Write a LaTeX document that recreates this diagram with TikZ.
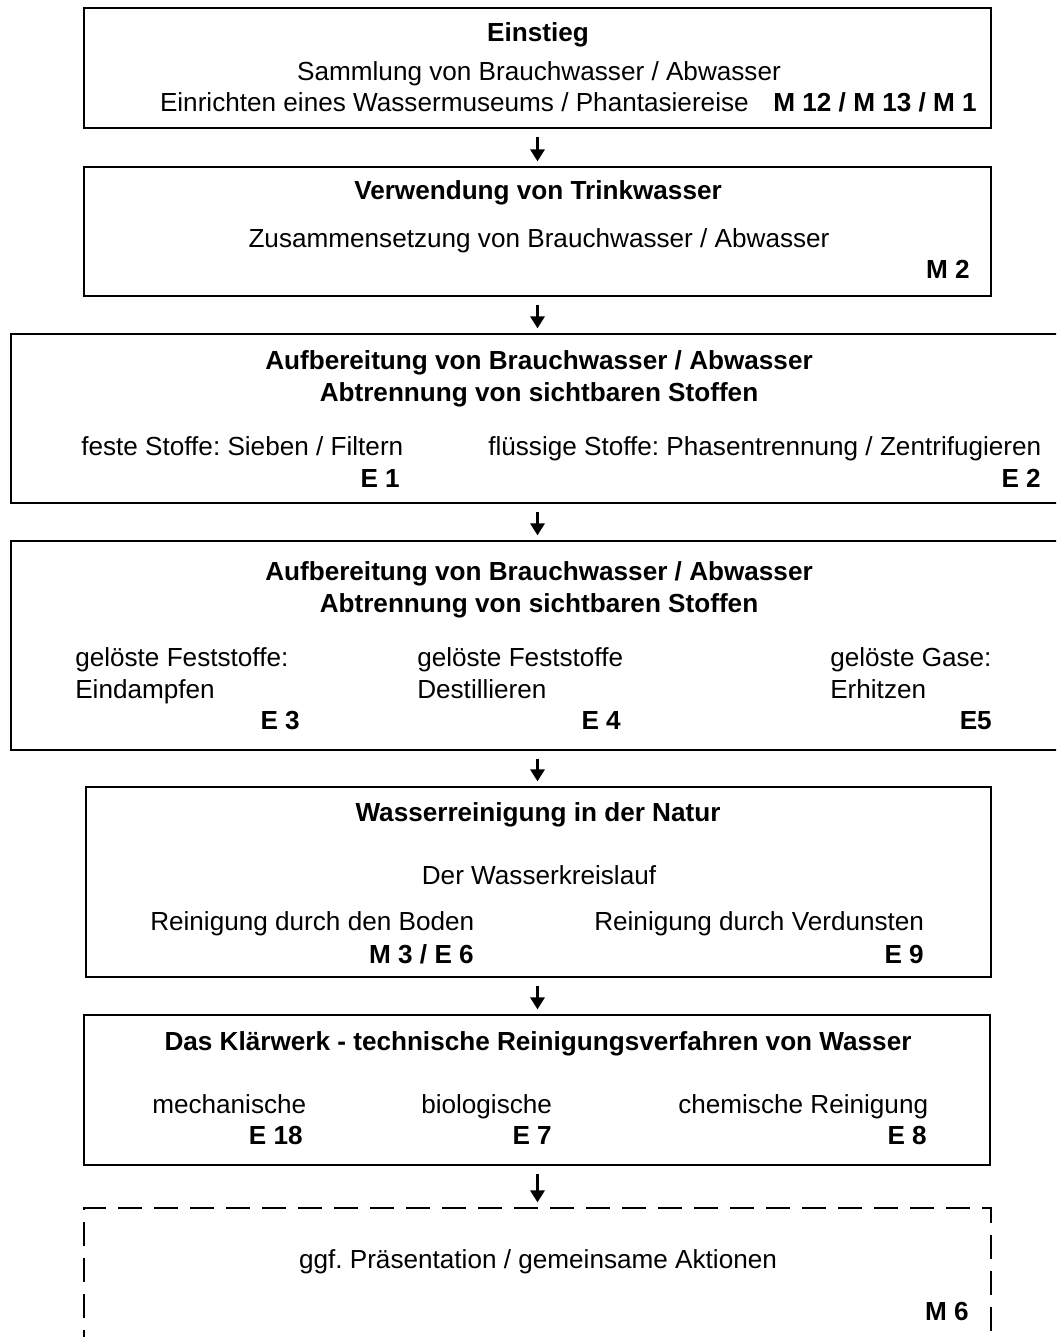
\documentclass[tikz,border=0pt]{standalone}
\usepackage{fontspec}
\setmainfont{Liberation Sans}
\usetikzlibrary{arrows.meta,fit}
\frenchspacing
\begin{document}
\begin{tikzpicture}[x=0.75pt,y=-0.75pt,
  box/.style={draw, line width=1.4pt, inner sep=0pt},
  dbox/.style={box, dash pattern=on 18pt off 9pt},
  txt/.style={inner sep=0pt, font={\fontsize{19.6pt}{24pt}\selectfont}},
  hd/.style={inner sep=0pt, font={\fontsize{19.6pt}{24pt}\selectfont\bfseries}},
  flow/.style={line width=2.2pt, -{Triangle[length=9pt,width=10.5pt]}, shorten <=6pt, shorten >=3.5pt}]
\useasboundingbox (0,0) rectangle (1056,1337);
\clip (0,0) rectangle (1056,1337);

% boxes
\node[box, fit={(84,8) (991,128)}] (b1) {};
\node[box, fit={(84,167) (991,296)}] (b2) {};
\node[box, fit={(11,334) (1070,503)}] (b3) {};
\node[box, fit={(11,541) (1070,750)}] (b4) {};
\node[box, fit={(86,787) (991,977)}] (b5) {};
\node[box, fit={(84,1015) (990,1165)}] (b6) {};
\node[dbox, fit={(84,1208) (991,1360)}] (b7) {};

% connectors
\draw[flow] (b1.south) -- (b2.north);
\draw[flow] (b2.south) -- (b2.south |- b3.north);
\draw[flow] (b3.south -| b2.south) -- (b4.north -| b2.south);
\draw[flow] (b4.south -| b2.south) -- (b5.north -| b2.south);
\draw[flow] (b5.south -| b2.south) -- (b6.north -| b2.south);
\draw[flow] (b6.south -| b2.south) -- (b7.north -| b2.south);

% box 1
\node[hd, anchor=base] (t1a) at (538,42) {Einstieg};
\node[txt, anchor=base] (t1b) at (539,81) {Sammlung von Brauchwasser / Abwasser};
\node[txt, anchor=base east] (t1c) at (977,112) {Einrichten eines Wassermuseums / Phantasiereise\hspace{18.5pt}\textbf{M 12 / M 13 / M 1}};

% box 2
\node[hd, anchor=base] (t2a) at (538,200) {Verwendung von Trinkwasser};
\node[txt, anchor=base] (t2b) at (539,248) {Zusammensetzung von Brauchwasser / Abwasser};
\node[hd, anchor=base east] (t2c) at (970,279) {M 2};

% box 3
\node[hd, anchor=base] (t3a) at (539,369) {Aufbereitung von Brauchwasser / Abwasser};
\node[hd, anchor=base] (t3b) at (539,401) {Abtrennung von sichtbaren Stoffen};
\node[txt, anchor=base west] (t3c) at (81,455) {feste Stoffe: Sieben / Filtern};
\node[hd, anchor=base east] (t3d) at (400,487) {E 1};
\node[txt, anchor=base west] (t3e) at (488,455) {flüssige Stoffe: Phasentrennung / Zentrifugieren};
\node[hd, anchor=base east] (t3f) at (1041,487) {E 2};

% box 4
\node[hd, anchor=base] (t4a) at (539,580) {Aufbereitung von Brauchwasser / Abwasser};
\node[hd, anchor=base] (t4b) at (539,612) {Abtrennung von sichtbaren Stoffen};
\node[txt, anchor=base west] (t4c) at (75,666) {gelöste Feststoffe:};
\node[txt, anchor=base west] (t4d) at (75,698) {Eindampfen};
\node[hd, anchor=base east] (t4e) at (300,729) {E 3};
\node[txt, anchor=base west] (t4f) at (417,666) {gelöste Feststoffe};
\node[txt, anchor=base west] (t4g) at (417,698) {Destillieren};
\node[hd, anchor=base east] (t4h) at (621,729) {E 4};
\node[txt, anchor=base west] (t4i) at (830,666) {gelöste Gase:};
\node[txt, anchor=base west] (t4j) at (830,698) {Erhitzen};
\node[hd, anchor=base east] (t4k) at (992,729) {E5};

% box 5
\node[hd, anchor=base] (t5a) at (538,821) {Wasserreinigung in der Natur};
\node[txt, anchor=base] (t5b) at (539,884) {Der Wasserkreislauf};
\node[txt, anchor=base west] (t5c) at (150,930) {Reinigung durch den Boden};
\node[hd, anchor=base east] (t5d) at (474,963) {M 3 / E 6};
\node[txt, anchor=base west] (t5e) at (594,930) {Reinigung durch Verdunsten};
\node[hd, anchor=base east] (t5f) at (924,963) {E 9};

% box 6
\node[hd, anchor=base] (t6a) at (538,1050) {Das Klärwerk - technische Reinigungsverfahren von Wasser};
\node[txt, anchor=base west] (t6b) at (152,1113) {mechanische};
\node[hd, anchor=base east] (t6c) at (303,1144) {E 18};
\node[txt, anchor=base west] (t6d) at (421,1113) {biologische};
\node[hd, anchor=base east] (t6e) at (552,1144) {E 7};
\node[txt, anchor=base west] (t6f) at (678,1113) {chemische Reinigung};
\node[hd, anchor=base east] (t6g) at (927,1144) {E 8};

% box 7
\node[txt, anchor=base] (t7a) at (538,1268) {ggf. Präsentation / gemeinsame Aktionen};
\node[hd, anchor=base east] (t7b) at (969,1320) {M 6};
\end{tikzpicture}
\end{document}
